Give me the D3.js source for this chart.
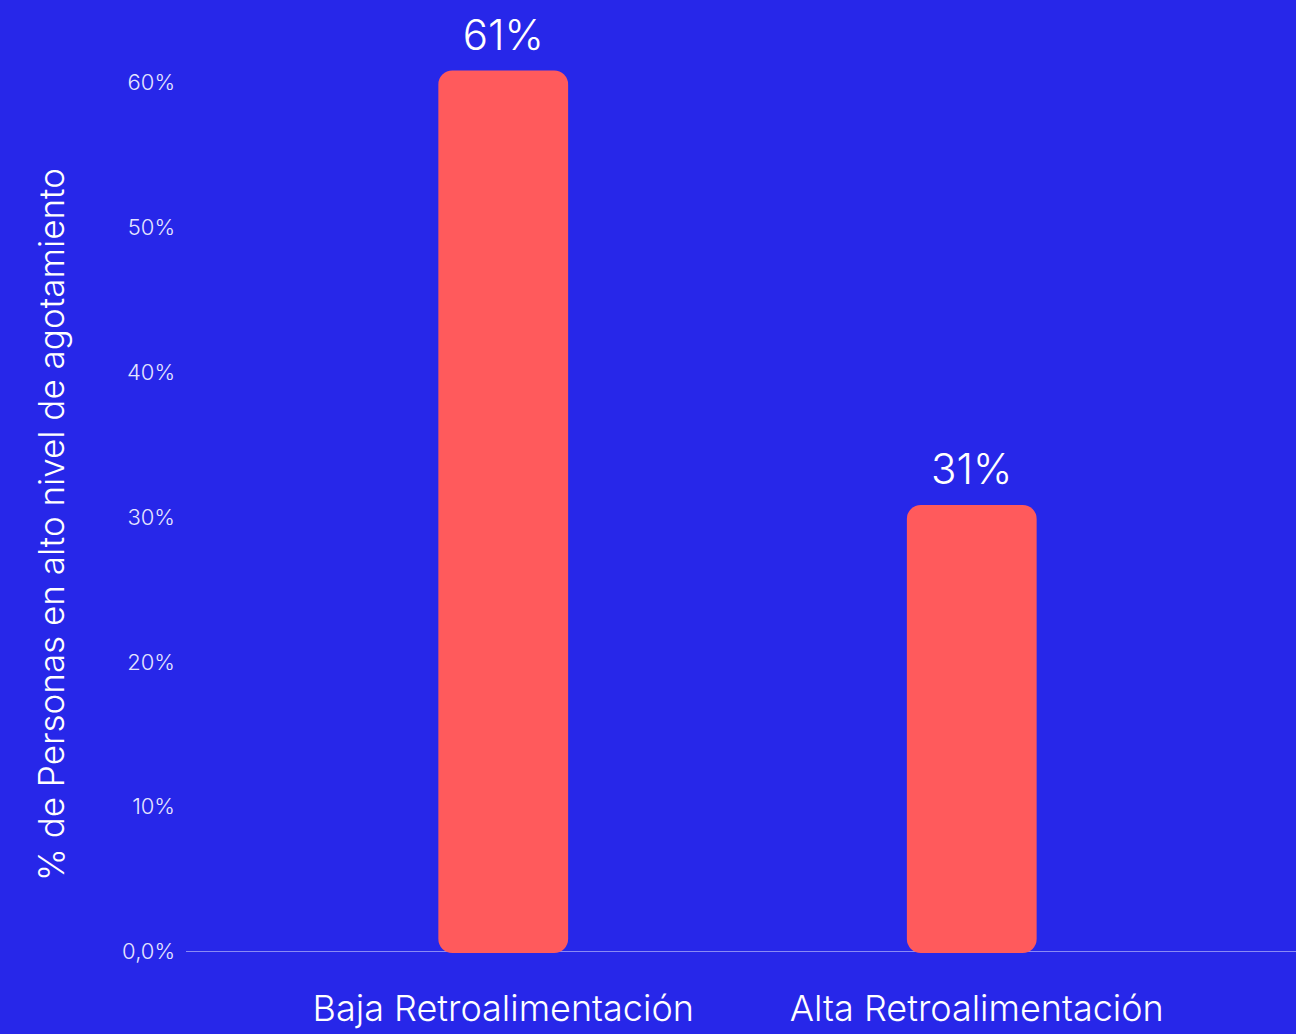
<!DOCTYPE html>
<html>
<head>
<meta charset="utf-8">
<script src="https://cdn.jsdelivr.net/npm/d3@7"></script>
<style>
  html, body { margin: 0; padding: 0; background: #2727E9; }
  svg { display: block; }
</style>
</head>
<body>
<svg id="chart" width="1296" height="1034"></svg>
<script>
const categories = ["Baja Retroalimentación", "Alta Retroalimentación"];
const values = [61, 31];
const valueLabels = ["61%", "31%"];
const tickValues = [0, 10, 20, 30, 40, 50, 60];
const tickLabels = ["0,0%", "10%", "20%", "30%", "40%", "50%", "60%"];
const yTitle = "% de Personas en alto nivel de agotamiento";

const W = 1296, H = 1034;
const svg = d3.select("#chart");
svg.append("rect").attr("width", W).attr("height", H).attr("fill", "#2727E9");

const y = d3.scaleLinear().domain([0, 60]).range([951, 82]);
const x = d3.scaleBand().domain(categories).range([183, 1292])
  .paddingInner(0.723).paddingOuter(0.545);

const font = "Inter, 'Noto Sans', sans-serif";

// baseline axis line
svg.append("line")
  .attr("x1", 186).attr("x2", W)
  .attr("y1", y(0) + 0.5).attr("y2", y(0) + 0.5)
  .attr("stroke", "#8a8af5").attr("stroke-width", 1.2);

// y axis tick labels
const yAxis = d3.axisLeft(y).tickValues(tickValues).tickSize(0)
  .tickFormat((d, i) => tickLabels[i]);
const gy = svg.append("g").attr("transform", "translate(175,0)").call(yAxis);
gy.select(".domain").remove();
gy.selectAll("text")
  .attr("fill", "#e6e6ff")
  .attr("font-family", font)
  .attr("font-weight", 300)
  .attr("font-size", 22)
  .attr("x", 0)
  .attr("dy", "0.35em");

// bars
svg.selectAll("rect.bar").data(values).join("rect")
  .attr("class", "bar")
  .attr("x", (d, i) => x(categories[i]))
  .attr("width", x.bandwidth())
  .attr("y", d => y(d) + 3)
  .attr("height", d => y(0) - y(d) - 1)
  .attr("rx", 14).attr("ry", 14)
  .attr("fill", "#FF5A5C");

// value labels
svg.selectAll("text.val").data(values).join("text")
  .attr("class", "val")
  .attr("x", (d, i) => x(categories[i]) + x.bandwidth() / 2)
  .attr("y", d => y(d) - 18)
  .attr("text-anchor", "middle")
  .attr("fill", "#ffffff")
  .attr("font-family", font)
  .attr("font-weight", 300)
  .attr("font-size", 42)
  .text((d, i) => valueLabels[i]);

// x axis category labels
const xAxis = d3.axisBottom(x).tickSize(0);
const gx = svg.append("g").attr("transform", `translate(0,${y(0)})`).call(xAxis);
gx.select(".domain").remove();
gx.selectAll("text")
  .attr("fill", "#ffffff")
  .attr("font-family", font)
  .attr("font-weight", 300)
  .attr("font-size", 36)
  .attr("x", (d, i) => i * 5)
  .attr("y", 70)
  .attr("dy", 0);

// y title
svg.append("text")
  .attr("transform", `translate(64,${(y(0) + y(60)) / 2 + 8}) rotate(-90)`)
  .attr("text-anchor", "middle")
  .attr("fill", "#ffffff")
  .attr("font-family", font)
  .attr("font-weight", 300)
  .attr("font-size", 35)
  .text(yTitle);
</script>
</body>
</html>
